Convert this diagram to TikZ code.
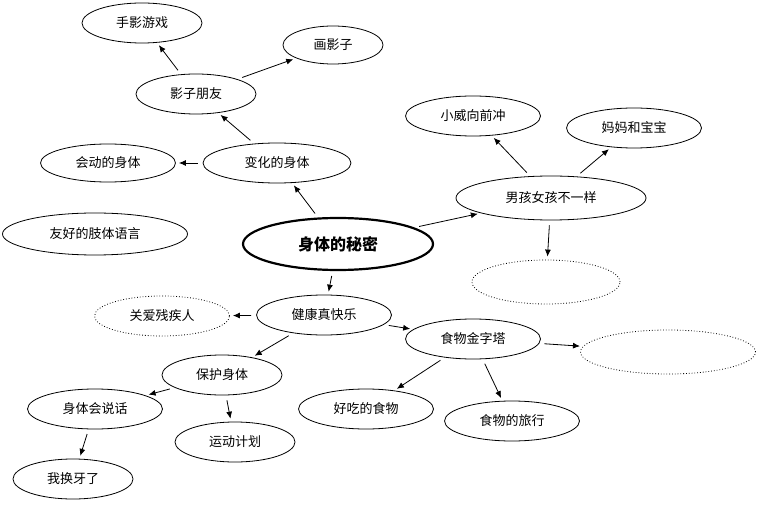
\documentclass[tikz,border=0pt]{standalone}
\usepackage{fontspec}
\setmainfont{Liberation Serif}
\newfontfamily\cjk{Noto Sans CJK SC}
\usetikzlibrary{shapes.geometric,arrows.meta}
\begin{document}
\begin{tikzpicture}[x=1pt,y=-1pt,
  e/.style={ellipse,draw,line width=0.8pt,inner sep=0pt,font=\cjk\fontsize{13}{15}\selectfont},
  d/.style={e,dotted},
  a/.style={-{Latex[length=7pt,width=6pt]},line width=0.8pt,shorten <=5pt,shorten >=3pt}]
\useasboundingbox (0,0) rectangle (758,505);
\node[e,minimum width=120,minimum height=40] (shy) at (142,23) {手影游戏};
\node[e,minimum width=100,minimum height=38] (hyz) at (333,45) {画影子};
\node[e,minimum width=120,minimum height=40] (yzpy) at (196,94) {影子朋友};
\node[e,minimum width=148,minimum height=40] (bh) at (277,163) {变化的身体};
\node[e,minimum width=135,minimum height=38] (hd) at (108,163) {会动的身体};
\node[e,minimum width=185,minimum height=42] (yh) at (95,234) {友好的肢体语言};
\node[ellipse,draw,line width=2.2pt,minimum width=190,minimum height=52,inner sep=0pt,font=\cjk\bfseries\fontsize{16}{18}\selectfont] (c) at (338,244) {身体的秘密};
\node[e,minimum width=135,minimum height=40] (xw) at (473,116) {小威向前冲};
\node[e,minimum width=135,minimum height=40] (mm) at (634,128) {妈妈和宝宝};
\node[e,minimum width=190,minimum height=44] (nh) at (551,198) {男孩女孩不一样};
\node[d,minimum width=148,minimum height=44] (d1) at (546,282) {};
\node[d,minimum width=135,minimum height=40] (ga) at (162,316) {关爱残疾人};
\node[e,minimum width=135,minimum height=40] (jk) at (324,315) {健康真快乐};
\node[e,minimum width=135,minimum height=40] (sw) at (473,339) {食物金字塔};
\node[d,minimum width=175,minimum height=44] (d2) at (668,352) {};
\node[e,minimum width=120,minimum height=40] (bh2) at (222,375) {保护身体};
\node[e,minimum width=135,minimum height=40] (sh) at (95,409) {身体会说话};
\node[e,minimum width=135,minimum height=40] (hc) at (366,409) {好吃的食物};
\node[e,minimum width=135,minimum height=40] (lx) at (512,421) {食物的旅行};
\node[e,minimum width=120,minimum height=40] (yd) at (235,442) {运动计划};
\node[e,minimum width=120,minimum height=40] (hy) at (73,479) {我换牙了};
\draw[a] (c) -- (bh);
\draw[a] (bh) -- (yzpy);
\draw[a] (bh) -- (hd);
\draw[a] (yzpy) -- (shy);
\draw[a] (yzpy) -- (hyz);
\draw[a] (c) -- (nh);
\draw[a] (nh) -- (xw);
\draw[a] (nh) -- (mm);
\draw[a] (nh) -- (d1);
\draw[a] (c) -- (jk);
\draw[a] (jk) -- (ga);
\draw[a] (jk) -- (sw);
\draw[a] (jk) -- (bh2);
\draw[a] (bh2) -- (sh);
\draw[a] (bh2) -- (yd);
\draw[a] (sh) -- (hy);
\draw[a] (sw) -- (hc);
\draw[a] (sw) -- (lx);
\draw[a] (sw) -- (d2);
\end{tikzpicture}
\end{document}
